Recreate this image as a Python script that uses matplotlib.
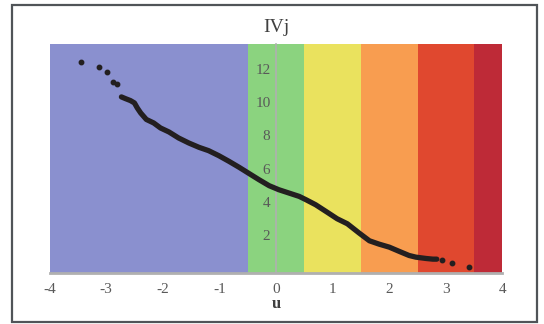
import matplotlib.pyplot as plt
import numpy as np

# band edges (u) and colours
band_edges = [-4, -0.5, 0.5, 1.5, 2.5, 3.5, 4]
band_colors = ['#8a90cf', '#8bd37f', '#eae25e', '#f89d50', '#e0482f', '#be2a37']

# sparse points at the low-u end
u_low = [-3.45, -3.13, -2.98, -2.87, -2.80]
iv_low = [12.38, 12.08, 11.80, 11.20, 11.10]

# dense part of the curve
u_mid = [-2.73, -2.66, -2.57, -2.50, -2.45, -2.39, -2.29, -2.16, -2.04, -1.89,
         -1.72, -1.54, -1.36, -1.19, -1.01, -0.83, -0.65, -0.48, -0.30, -0.12,
         0.05, 0.23, 0.41, 0.53, 0.70, 0.90, 1.08, 1.26, 1.47, 1.65,
         1.82, 2.00, 2.18, 2.35, 2.47, 2.65, 2.77, 2.84]
iv_mid = [10.30, 10.20, 10.08, 9.94, 9.64, 9.34, 8.95, 8.74, 8.44, 8.20,
          7.84, 7.54, 7.28, 7.08, 6.78, 6.44, 6.08, 5.72, 5.34, 4.98,
          4.74, 4.54, 4.34, 4.14, 3.84, 3.40, 3.00, 2.70, 2.14, 1.68,
          1.48, 1.30, 1.04, 0.80, 0.70, 0.62, 0.58, 0.58]

# sparse points at the high-u end
u_high = [2.94, 3.10, 3.41]
iv_high = [0.50, 0.32, 0.08]

xticks = [-4, -3, -2, -1, 0, 1, 2, 3, 4]
yticks = [2, 4, 6, 8, 10, 12]

plt.rcParams['font.family'] = ['Liberation Serif', 'DejaVu Serif']

fig = plt.figure(figsize=(5.44, 3.24), dpi=100)
ax = fig.add_axes([0.091, 0.1574, 0.8327, 0.7083])
ax.set_xlim(-4, 4)
ax.set_ylim(-0.25, 13.5)

for i, c in enumerate(band_colors):
    ax.axvspan(band_edges[i], band_edges[i + 1], color=c, lw=0, zorder=0)

dot = '#231f20'
ax.plot(u_mid, iv_mid, color=dot, lw=3.8, solid_capstyle='round', zorder=3)
ax.plot(u_low, iv_low, 'o', color=dot, ms=3.2, zorder=3)
ax.plot(u_high, iv_high, 'o', color=dot, ms=3.2, zorder=3)

# axes look
for s in ['top', 'right']:
    ax.spines[s].set_visible(False)
ax.spines['left'].set_position(('data', 0))
ax.spines['left'].set_color('#b0b0b0')
ax.spines['left'].set_linewidth(1.2)
ax.spines['left'].set_zorder(2)
ax.spines['bottom'].set_color('#b0b0b0')
ax.spines['bottom'].set_linewidth(2)
ax.set_xticks(xticks)
ax.set_xticklabels([str(t) for t in xticks])
ax.set_yticks(yticks)
ax.tick_params(length=0, colors='#595959', labelsize=11)
ax.tick_params(axis='x', pad=7)
ax.tick_params(axis='y', pad=4)
ax.set_xlabel('u', fontsize=12, fontweight='bold', color='#404040', labelpad=0)
ax.set_title('IVj', fontsize=14, color='#404040', pad=8)

# chart border
border = plt.Rectangle((12 / 544, 2 / 324), 525 / 544, 317 / 324, transform=fig.transFigure,
                       fill=False, edgecolor='#505458', lw=1.6)
fig.patches.append(border)

fig.savefig('out.png', dpi=100)
